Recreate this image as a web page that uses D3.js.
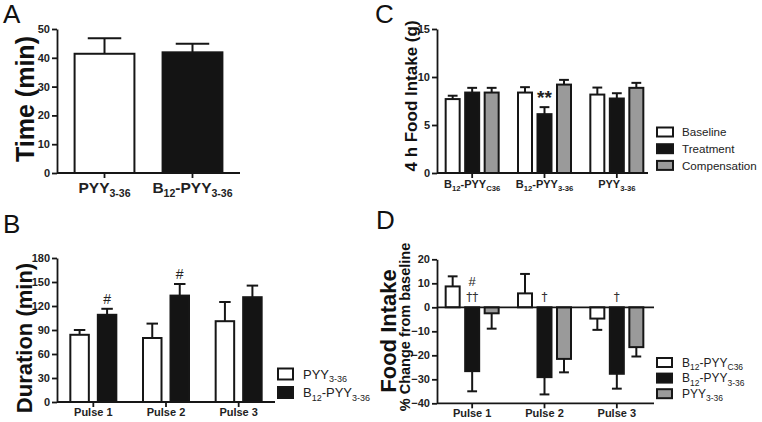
<!DOCTYPE html>
<html>
<head>
<meta charset="utf-8">
<script src="https://cdn.jsdelivr.net/npm/d3@7"></script>
<style>
  html, body { margin: 0; padding: 0; background: #fff; }
  svg { display: block; font-family: "Liberation Sans", Arial, sans-serif; }
</style>
</head>
<body>
<svg id="chart" width="762" height="422"></svg>
<script>
// ---------------- DATA ----------------
// Panel A
const panelACategories = ["PYY{3-36}", "B{12}-PYY{3-36}"];
const panelAMeans = [41.4, 41.9];
const panelASem = [5.4, 3.0];
const panelAYTicks = [0, 10, 20, 30, 40, 50];

// Panel B
const panelBCategories = ["Pulse 1", "Pulse 2", "Pulse 3"];
const panelBSeries = ["PYY{3-36}", "B{12}-PYY{3-36}"];
const panelBPyyMeans = [84, 80, 101];
const panelBPyySem = [6, 18, 24];
const panelBB12Means = [109, 133, 131];
const panelBB12Sem = [7.5, 14.5, 14.5];
const panelBB12Marks = ["#", "#", ""];
const panelBYTicks = [0, 30, 60, 90, 120, 150, 180];

// Panel C
const panelCCategories = ["B{12}-PYY{C36}", "B{12}-PYY{3-36}", "PYY{3-36}"];
const panelCSeries = ["Baseline", "Treatment", "Compensation"];
const panelCBaseline = [7.7, 8.38, 8.17];
const panelCBaselineSem = [0.35, 0.56, 0.73];
const panelCTreatment = [8.38, 6.13, 7.76];
const panelCTreatmentSem = [0.49, 0.73, 0.55];
const panelCCompensation = [8.38, 9.21, 8.87];
const panelCCompensationSem = [0.49, 0.49, 0.52];
const panelCTreatmentMarks = ["", "**", ""];
const panelCYTicks = [0, 5, 10, 15];

// Panel D
const panelDCategories = ["Pulse 1", "Pulse 2", "Pulse 3"];
const panelDSeries = ["B{12}-PYY{C36}", "B{12}-PYY{3-36}", "PYY{3-36}"];
const panelDControl = [8.7, 5.8, -4.7];
const panelDControlSem = [4.2, 8.1, 4.7];
const panelDB12 = [-26.6, -29.1, -27.7];
const panelDB12Sem = [8.4, 7.2, 6.2];
const panelDPyy = [-2.5, -21.5, -16.6];
const panelDPyySem = [6.4, 5.6, 3.9];
const panelDB12MarksTop = ["#", "", ""];
const panelDB12Marks = ["\u2020\u2020", "\u2020", "\u2020"];
const panelDYTicks = [-40, -30, -20, -10, 0, 10, 20];

// ---------------- STYLE ----------------
const INK = "#161616";
const TXT = "#222";
const FILLS = ["#ffffff", "#141414", "#9a9a9a"];

const svg = d3.select("#chart");

function rich(textSel, str, size, subRatio) {
  const parts = str.split(/(\{[^}]*\})/).filter(s => s.length);
  let sub = false;
  parts.forEach(p => {
    const isSub = p.startsWith("{");
    const t = textSel.append("tspan").text(isSub ? p.slice(1, -1) : p);
    if (isSub) {
      t.attr("font-size", size * subRatio);
      if (!sub) t.attr("dy", size * 0.28);
    } else {
      t.attr("font-size", size);
      if (sub) t.attr("dy", -size * 0.28);
    }
    sub = isSub;
  });
  return textSel;
}

function yAxis(g, y, ticks) {
  const ax = g.append("g")
    .attr("transform", `translate(${y.xPos},0)`)
    .call(d3.axisLeft(y).tickValues(ticks).tickSize(5).tickSizeOuter(0).tickPadding(2));
  ax.select(".domain").attr("stroke", INK).attr("stroke-width", 1.8);
  ax.selectAll(".tick line").attr("stroke", INK).attr("stroke-width", 1.8);
  ax.selectAll(".tick text").attr("fill", TXT).attr("font-size", 11).attr("font-weight", "bold")
    .attr("font-family", "Liberation Sans, Arial, sans-serif");
  return ax;
}

function xTicks(g, x, yPix, len) {
  const ax = g.append("g")
    .attr("transform", `translate(0,${yPix})`)
    .call(d3.axisBottom(x).tickSize(len).tickFormat(""));
  ax.select(".domain").remove();
  ax.selectAll(".tick line").attr("stroke", INK).attr("stroke-width", 1.8);
  return ax;
}

function hline(g, x1, x2, yPix) {
  g.append("line").attr("x1", x1).attr("x2", x2).attr("y1", yPix).attr("y2", yPix)
    .attr("stroke", INK).attr("stroke-width", 1.8);
}

function bars(g, data, y, capRatio) {
  const grp = g.append("g");
  grp.selectAll("line.err").data(data).join("line").attr("class", "err")
    .attr("x1", d => d.cx).attr("x2", d => d.cx)
    .attr("y1", d => y(d.v)).attr("y2", d => y(d.v + Math.sign(d.v) * d.e))
    .attr("stroke", INK).attr("stroke-width", 2);
  grp.selectAll("line.cap").data(data).join("line").attr("class", "cap")
    .attr("x1", d => d.cx - d.w * capRatio / 2).attr("x2", d => d.cx + d.w * capRatio / 2)
    .attr("y1", d => y(d.v + Math.sign(d.v) * d.e)).attr("y2", d => y(d.v + Math.sign(d.v) * d.e))
    .attr("stroke", INK).attr("stroke-width", 2);
  grp.selectAll("rect").data(data).join("rect")
    .attr("x", d => d.cx - d.w / 2)
    .attr("y", d => Math.min(y(0), y(d.v)))
    .attr("width", d => d.w)
    .attr("height", d => Math.abs(y(d.v) - y(0)))
    .attr("fill", d => d.fill).attr("stroke", INK).attr("stroke-width", 2);
}

function panelLetter(txt, x, yb) {
  svg.append("text").attr("x", x).attr("y", yb).attr("font-size", 26).attr("fill", "#111").text(txt);
}

function axisTitle(txt, x, yc, size, weight) {
  svg.append("text").attr("transform", `translate(${x},${yc}) rotate(-90)`)
    .attr("text-anchor", "middle").attr("font-size", size).attr("font-weight", weight)
    .attr("fill", "#111").text(txt);
}

function legend(g, items, x, y0, step, textX, size, subSize, boxW, boxH) {
  items.forEach((lab, i) => {
    const cy = y0 + i * step;
    g.append("rect").attr("x", x).attr("y", cy - boxH / 2).attr("width", boxW).attr("height", boxH)
      .attr("fill", FILLS[i]).attr("stroke", INK).attr("stroke-width", 2);
    const t = g.append("text").attr("x", textX).attr("y", cy + size * 0.36).attr("fill", TXT);
    rich(t, lab, size, subSize / size);
  });
}

// ---------------- PANEL A ----------------
{
  const g = svg.append("g");
  const y = d3.scaleLinear().domain([0, 50]).range([173, 29]);
  y.xPos = 57;
  const x = d3.scaleBand().domain(panelACategories).range([57, 240]).paddingInner(0.32).paddingOuter(0.2);
  const data = panelACategories.map((c, i) => ({
    cx: x(c) + x.bandwidth() / 2, w: x.bandwidth(), v: panelAMeans[i], e: panelASem[i], fill: FILLS[i]
  }));
  bars(g, data, y, 0.56);
  yAxis(g, y, panelAYTicks);
  hline(g, 57, 240, 173);
  xTicks(g, x, 173, 5);
  panelACategories.forEach(c => {
    const t = g.append("text").attr("x", x(c) + x.bandwidth() / 2).attr("y", 193)
      .attr("text-anchor", "middle").attr("font-weight", "bold").attr("fill", TXT);
    rich(t, c, 15.5, 0.68);
  });
  axisTitle("Time (min)", 34, 99, 25, "bold");
  panelLetter("A", 3, 23);
}

// ---------------- PANEL B ----------------
{
  const g = svg.append("g");
  const y = d3.scaleLinear().domain([0, 180]).range([402, 258]);
  y.xPos = 57;
  const x0 = d3.scaleBand().domain(panelBCategories).range([57, 275]);
  const x1 = d3.scaleBand().domain(panelBSeries).range([-23, 23]).paddingInner(0.327);
  const means = [panelBPyyMeans, panelBB12Means];
  const sems = [panelBPyySem, panelBB12Sem];
  const data = [];
  panelBCategories.forEach((c, i) => {
    panelBSeries.forEach((s, j) => {
      data.push({
        cx: x0(c) + x0.bandwidth() / 2 + x1(s) + x1.bandwidth() / 2,
        w: x1.bandwidth(), v: means[j][i], e: sems[j][i], fill: FILLS[j]
      });
    });
  });
  bars(g, data, y, 0.62);
  yAxis(g, y, panelBYTicks);
  hline(g, 57, 275, 402);
  xTicks(g, x0, 402, 5);
  panelBCategories.forEach(c => {
    g.append("text").attr("x", x0(c) + x0.bandwidth() / 2).attr("y", 416)
      .attr("text-anchor", "middle").attr("font-weight", "bold").attr("font-size", 11)
      .attr("fill", TXT).text(c);
  });
  panelBCategories.forEach((c, i) => {
    if (!panelBB12Marks[i]) return;
    const cx = x0(c) + x0.bandwidth() / 2 + x1(panelBSeries[1]) + x1.bandwidth() / 2;
    g.append("text").attr("x", cx).attr("y", y(panelBB12Means[i] + panelBB12Sem[i]) - 5)
      .attr("text-anchor", "middle").attr("font-size", 14).attr("fill", TXT).text(panelBB12Marks[i]);
  });
  legend(g, panelBSeries, 278, 374, 18.5, 303, 13, 9, 15, 11);
  axisTitle("Duration (min)", 32, 338, 22, "bold");
  panelLetter("B", 3, 233);
}

// ---------------- PANEL C ----------------
{
  const g = svg.append("g");
  const y = d3.scaleLinear().domain([0, 15]).range([173, 29]);
  y.xPos = 437;
  const x0 = d3.scaleBand().domain(panelCCategories).range([436, 653]);
  const x1 = d3.scaleBand().domain(panelCSeries).range([-26.5, 26.5]).paddingInner(0.282);
  const means = [panelCBaseline, panelCTreatment, panelCCompensation];
  const sems = [panelCBaselineSem, panelCTreatmentSem, panelCCompensationSem];
  const data = [];
  panelCCategories.forEach((c, i) => {
    panelCSeries.forEach((s, j) => {
      data.push({
        cx: x0(c) + x0.bandwidth() / 2 + x1(s) + x1.bandwidth() / 2,
        w: x1.bandwidth(), v: means[j][i], e: sems[j][i], fill: FILLS[j]
      });
    });
  });
  bars(g, data, y, 0.7);
  yAxis(g, y, panelCYTicks);
  hline(g, 437, 648, 173);
  xTicks(g, x0, 173, 5);
  panelCCategories.forEach(c => {
    const t = g.append("text").attr("x", x0(c) + x0.bandwidth() / 2).attr("y", 188)
      .attr("text-anchor", "middle").attr("font-weight", "bold").attr("fill", TXT);
    rich(t, c, 11, 0.7);
  });
  panelCCategories.forEach((c, i) => {
    if (!panelCTreatmentMarks[i]) return;
    const cx = x0(c) + x0.bandwidth() / 2 + x1(panelCSeries[1]) + x1.bandwidth() / 2;
    g.append("text").attr("x", cx).attr("y", y(panelCTreatment[i] + panelCTreatmentSem[i]) - 3)
      .attr("text-anchor", "middle").attr("font-size", 19).attr("font-weight", "bold")
      .attr("fill", TXT).text(panelCTreatmentMarks[i]);
  });
  legend(g, panelCSeries, 657, 132, 16.7, 682, 11.6, 8.2, 16, 9);
  axisTitle("4 h Food Intake (g)", 417, 96, 17, "bold");
  panelLetter("C", 375, 23);
}

// ---------------- PANEL D ----------------
{
  const g = svg.append("g");
  const y = d3.scaleLinear().domain([-40, 20]).range([403.3, 259.3]);
  y.xPos = 437;
  const x0 = d3.scaleBand().domain(panelDCategories).range([436, 653]);
  const x1 = d3.scaleBand().domain(panelDSeries).range([-26.5, 26.5]).paddingInner(0.282);
  const means = [panelDControl, panelDB12, panelDPyy];
  const sems = [panelDControlSem, panelDB12Sem, panelDPyySem];
  const data = [];
  panelDCategories.forEach((c, i) => {
    panelDSeries.forEach((s, j) => {
      data.push({
        cx: x0(c) + x0.bandwidth() / 2 + x1(s) + x1.bandwidth() / 2,
        w: x1.bandwidth(), v: means[j][i], e: sems[j][i], fill: FILLS[j]
      });
    });
  });
  bars(g, data, y, 0.7);
  yAxis(g, y, panelDYTicks);
  hline(g, 437, 654, y(0));
  hline(g, 437, 654, y(-40));
  xTicks(g, x0, y(-40), 5);
  panelDCategories.forEach(c => {
    g.append("text").attr("x", x0(c) + x0.bandwidth() / 2).attr("y", 417)
      .attr("text-anchor", "middle").attr("font-weight", "bold").attr("font-size", 11)
      .attr("fill", TXT).text(c);
  });
  panelDCategories.forEach((c, i) => {
    const cx = x0(c) + x0.bandwidth() / 2 + x1(panelDSeries[1]) + x1.bandwidth() / 2;
    g.append("text").attr("x", cx).attr("y", y(0) - 6)
      .attr("text-anchor", "middle").attr("font-size", 12).attr("fill", "#333")
      .attr("font-family", "DejaVu Sans, sans-serif").text(panelDB12Marks[i]);
    if (panelDB12MarksTop[i]) {
      g.append("text").attr("x", cx).attr("y", y(0) - 21)
        .attr("text-anchor", "middle").attr("font-size", 13).attr("fill", TXT).text(panelDB12MarksTop[i]);
    }
  });
  legend(g, panelDSeries, 657, 362.5, 15.6, 682, 12, 8.5, 15, 9);
  axisTitle("Food Intake", 396, 331, 22, "bold");
  axisTitle("% Change from baseline", 410, 327, 14.5, "bold");
  panelLetter("D", 376, 229);
}
</script>
</body>
</html>
